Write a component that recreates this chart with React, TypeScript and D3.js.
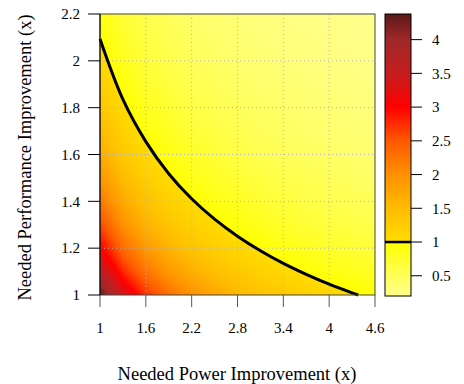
import React, { useRef, useEffect } from "react";
import * as d3 from "d3";

// grid of the surface (power improvement along x, performance improvement along y)
const powerGrid = [1, 1.3, 1.6, 1.9, 2.2, 2.5, 2.8, 3.1, 3.4, 3.7, 4.0, 4.3, 4.6];
const perfGrid = [1.0, 1.1, 1.2, 1.3, 1.4, 1.5, 1.6, 1.7, 1.8, 1.9, 2.0, 2.1, 2.2];
// one row per perfGrid value, one column per powerGrid value
const surface = [
  [4.38, 3.37, 2.74, 2.31, 1.99, 1.75, 1.56, 1.41, 1.29, 1.18, 1.10, 1.02, 0.95],
  [3.62, 2.78, 2.26, 1.91, 1.65, 1.45, 1.29, 1.17, 1.06, 0.98, 0.90, 0.84, 0.79],
  [3.04, 2.34, 1.90, 1.60, 1.38, 1.22, 1.09, 0.98, 0.89, 0.82, 0.76, 0.71, 0.66],
  [2.59, 1.99, 1.62, 1.36, 1.18, 1.04, 0.93, 0.84, 0.76, 0.70, 0.65, 0.60, 0.56],
  [2.23, 1.72, 1.40, 1.18, 1.02, 0.89, 0.80, 0.72, 0.66, 0.60, 0.56, 0.52, 0.49],
  [1.95, 1.50, 1.22, 1.02, 0.88, 0.78, 0.70, 0.63, 0.57, 0.53, 0.49, 0.45, 0.42],
  [1.71, 1.32, 1.07, 0.90, 0.78, 0.68, 0.61, 0.55, 0.50, 0.46, 0.43, 0.40, 0.37],
  [1.52, 1.17, 0.95, 0.80, 0.69, 0.61, 0.54, 0.49, 0.45, 0.41, 0.38, 0.35, 0.33],
  [1.35, 1.04, 0.84, 0.71, 0.61, 0.54, 0.48, 0.44, 0.40, 0.37, 0.34, 0.31, 0.29],
  [1.21, 0.93, 0.76, 0.64, 0.55, 0.49, 0.43, 0.39, 0.36, 0.33, 0.30, 0.28, 0.26],
  [1.09, 0.84, 0.68, 0.58, 0.50, 0.44, 0.39, 0.35, 0.32, 0.30, 0.27, 0.25, 0.24],
  [0.99, 0.76, 0.62, 0.52, 0.45, 0.40, 0.35, 0.32, 0.29, 0.27, 0.25, 0.23, 0.22],
  [0.90, 0.70, 0.57, 0.48, 0.41, 0.36, 0.32, 0.29, 0.27, 0.24, 0.23, 0.21, 0.20],
];

// the level-1 line
const breakEvenLevel = 1;
const breakEvenPower = [1, 1.3, 1.6, 1.9, 2.2, 2.5, 2.8, 3.1, 3.4, 3.7, 4.0, 4.3, 4.38];
const breakEvenPerf = [2.093, 1.835, 1.655, 1.518, 1.411, 1.324, 1.251, 1.189, 1.135, 1.088, 1.046, 1.009, 1.0];

const xTicks = [1, 1.6, 2.2, 2.8, 3.4, 4, 4.6];
const yTicks = [1, 1.2, 1.4, 1.6, 1.8, 2, 2.2];
const barTicks = [0.5, 1, 1.5, 2, 2.5, 3, 3.5, 4];
const barRange = [0.2, 4.38];

const colorStops = [0.2, 1, 1, 1.5, 2, 2.5, 3, 3.5, 4, 4.38];
const colorRange = ["#ffff8c", "#ffff00", "#ffdc00", "#ffbc00", "#ff9000", "#ff5800", "#ff0000", "#c41e1e", "#a02828", "#5a1818"];

export default function App() {
  const svgRef = useRef<SVGSVGElement>(null);

  useEffect(() => {
    const svg = d3.select(svgRef.current);
    svg.selectAll("*").remove();

    const font = "'Liberation Serif', 'Times New Roman', serif";
    const left = 100, right = 375, top = 14, bottom = 295;
    const x = d3.scaleLinear().domain([1, 4.6]).range([left, right]);
    const y = d3.scaleLinear().domain([1, 2.2]).range([bottom, top]);
    const color = d3.scaleLinear<string>().domain(colorStops).range(colorRange).clamp(true);

    // raster of the surface
    const w = right - left, h = bottom - top;
    const canvas = document.createElement("canvas");
    canvas.width = w;
    canvas.height = h;
    const ctx = canvas.getContext("2d")!;
    const img = ctx.createImageData(w, h);
    const nx = powerGrid.length, ny = perfGrid.length;
    const gi = d3.scaleLinear().domain([powerGrid[0], powerGrid[nx - 1]]).range([0, nx - 1]).clamp(true);
    const gj = d3.scaleLinear().domain([perfGrid[0], perfGrid[ny - 1]]).range([0, ny - 1]).clamp(true);
    for (let py = 0; py < h; py++) {
      const fj = gj(y.invert(top + py + 0.5));
      const j0 = Math.min(Math.floor(fj), ny - 2);
      const ty = fj - j0;
      for (let px = 0; px < w; px++) {
        const fi = gi(x.invert(left + px + 0.5));
        const i0 = Math.min(Math.floor(fi), nx - 2);
        const tx = fi - i0;
        const v =
          (1 - ty) * ((1 - tx) * surface[j0][i0] + tx * surface[j0][i0 + 1]) +
          ty * ((1 - tx) * surface[j0 + 1][i0] + tx * surface[j0 + 1][i0 + 1]);
        const c = d3.rgb(color(v));
        const k = (py * w + px) * 4;
        img.data[k] = c.r;
        img.data[k + 1] = c.g;
        img.data[k + 2] = c.b;
        img.data[k + 3] = 255;
      }
    }
    ctx.putImageData(img, 0, 0);
    svg.append("image")
      .attr("x", left).attr("y", top)
      .attr("width", w).attr("height", h)
      .attr("preserveAspectRatio", "none")
      .attr("href", canvas.toDataURL());

    // dotted grid
    svg.append("g")
      .selectAll("line")
      .data(xTicks.slice(1, -1))
      .join("line")
      .attr("x1", (d) => x(d)).attr("x2", (d) => x(d))
      .attr("y1", top).attr("y2", bottom)
      .attr("stroke", "#b4b4b4").attr("stroke-dasharray", "1,3");
    svg.append("g")
      .selectAll("line")
      .data(yTicks.slice(1, -1))
      .join("line")
      .attr("y1", (d) => y(d)).attr("y2", (d) => y(d))
      .attr("x1", left).attr("x2", right)
      .attr("stroke", "#b4b4b4").attr("stroke-dasharray", "1,3");

    // level-1 line
    const pts = breakEvenPower.map((p, i) => [p, breakEvenPerf[i]] as [number, number]);
    svg.append("path")
      .datum(pts)
      .attr("d", d3.line().x((d) => x(d[0])).y((d) => y(d[1])).curve(d3.curveCatmullRom))
      .attr("fill", "none")
      .attr("stroke", "black")
      .attr("stroke-width", 3);

    // frame and axes
    svg.append("rect")
      .attr("x", left).attr("y", top).attr("width", w).attr("height", h)
      .attr("fill", "none").attr("stroke", "#444");
    svg.append("line")
      .attr("x1", left).attr("x2", left).attr("y1", top).attr("y2", bottom)
      .attr("stroke", "black");

    const xAxis = svg.append("g");
    xAxis.selectAll("line")
      .data(xTicks)
      .join("line")
      .attr("x1", (d) => x(d)).attr("x2", (d) => x(d))
      .attr("y1", bottom).attr("y2", bottom + 12)
      .attr("stroke", "#555");
    xAxis.selectAll("text")
      .data(xTicks)
      .join("text")
      .attr("x", (d) => x(d)).attr("y", 333)
      .attr("text-anchor", "middle")
      .attr("font-family", font).attr("font-size", 15)
      .text((d) => String(d));

    const yAxis = svg.append("g");
    yAxis.selectAll("line")
      .data(yTicks)
      .join("line")
      .attr("x1", left - 12).attr("x2", left)
      .attr("y1", (d) => y(d)).attr("y2", (d) => y(d))
      .attr("stroke", "black");
    yAxis.selectAll("text")
      .data(yTicks)
      .join("text")
      .attr("x", 80).attr("y", (d) => y(d))
      .attr("dy", "0.35em")
      .attr("text-anchor", "end")
      .attr("font-family", font).attr("font-size", 15)
      .text((d) => String(d));

    svg.append("text")
      .attr("x", 237).attr("y", 380)
      .attr("text-anchor", "middle")
      .attr("font-family", font).attr("font-size", 18.5)
      .text("Needed Power Improvement (x)");
    svg.append("text")
      .attr("transform", `translate(31,${(top + bottom) / 2 + 3}) rotate(-90)`)
      .attr("text-anchor", "middle")
      .attr("font-family", font).attr("font-size", 18.5)
      .text("Needed Performance Improvement (x)");

    // colour bar
    const bx0 = 385, bx1 = 411, by0 = 14, by1 = 296;
    const cb = d3.scaleLinear().domain(barRange).range([by1, by0]);
    svg.append("g")
      .selectAll("rect")
      .data(d3.range(by0, by1))
      .join("rect")
      .attr("x", bx0).attr("y", (d) => d)
      .attr("width", bx1 - bx0).attr("height", 1.2)
      .attr("fill", (d) => color(cb.invert(d + 0.5)));
    svg.append("line")
      .attr("x1", bx0).attr("x2", bx1)
      .attr("y1", cb(breakEvenLevel)).attr("y2", cb(breakEvenLevel))
      .attr("stroke", "black").attr("stroke-width", 2.5);
    svg.append("rect")
      .attr("x", bx0).attr("y", by0).attr("width", bx1 - bx0).attr("height", by1 - by0)
      .attr("fill", "none").attr("stroke", "black");
    const bAxis = svg.append("g");
    bAxis.selectAll("line")
      .data(barTicks)
      .join("line")
      .attr("x1", bx1).attr("x2", bx1 + 11)
      .attr("y1", (d) => cb(d)).attr("y2", (d) => cb(d))
      .attr("stroke", "black");
    bAxis.selectAll("text")
      .data(barTicks)
      .join("text")
      .attr("x", 432).attr("y", (d) => cb(d))
      .attr("dy", "0.35em")
      .attr("font-family", font).attr("font-size", 15)
      .text((d) => String(d));
  }, []);

  return (
    <svg
      ref={svgRef}
      width={464}
      height={384}
      style={{ position: "absolute", left: 0, top: 0, background: "white" }}
    />
  );
}
